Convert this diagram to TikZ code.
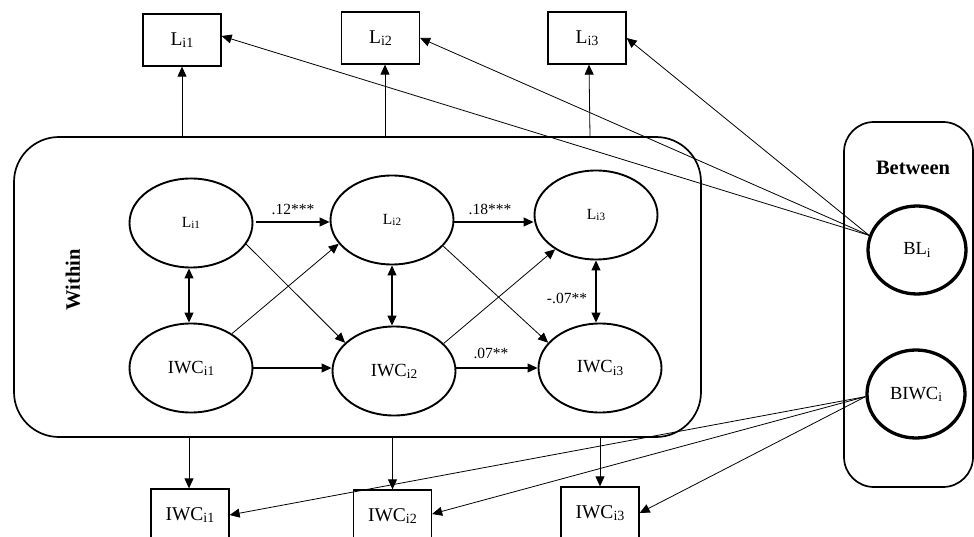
\documentclass[tikz,border=0pt]{standalone}
\usepackage{fontspec}
\setmainfont{Liberation Serif}
\usepackage{graphicx}
\usetikzlibrary{arrows.meta,shapes.geometric}
\newcommand\sbs[1]{\raisebox{-0.25ex}{\scalebox{0.72}{#1}}}
\begin{document}
\begin{tikzpicture}[x=1pt,y=-1pt,
  obs/.style={draw,line width=1.3pt,minimum width=78pt,minimum height=52pt,inner sep=0pt,font=\fontsize{19.5}{20}\selectfont},
  lat/.style={draw,ellipse,line width=1.9pt,minimum width=123pt,minimum height=89pt,inner sep=0pt},
  blat/.style={draw,ellipse,line width=3.3pt,minimum width=98pt,minimum height=88pt,inner sep=0pt,font=\fontsize{18.5}{20}\selectfont},
  pan/.style={draw,line width=1.7pt,inner sep=0pt},
  conn/.style={line width=0.8pt,-{Triangle[length=10pt,width=9pt]}},
  hconn/.style={line width=1.1pt,-{Triangle[length=10pt,width=9pt]}},
  dconn/.style={line width=1.1pt,{Triangle[length=10pt,width=9pt]}-{Triangle[length=10pt,width=9pt]}},
  lab/.style={font=\fontsize{15.5}{16}\selectfont,inner sep=0pt}
]
\useasboundingbox (0,0) rectangle (974,537);
\clip (0,0) rectangle (974,537);
\fill[white] (0,0) rectangle (974,537);

% panels
\node[pan,rounded corners=45pt,minimum width=687pt,minimum height=300pt] (W) at (357.5,287) {};
\node[pan,rounded corners=30pt,minimum width=129pt,minimum height=365pt] (B) at (908.5,304.5) {};
\node[font=\bfseries\fontsize{20.5}{22}\selectfont,rotate=90] (Wt) at (73,280) {Within};
\node[font=\bfseries\fontsize{20.5}{22}\selectfont] (Bt) at (913,168) {Between};

% observed boxes
\node[obs] (Lb1) at (182,40) {L\sbs{i1}};
\node[obs] (Lb2) at (380.5,38) {L\sbs{i2}};
\node[obs] (Lb3) at (587,38) {L\sbs{i3}};
\node[obs] (Ib1) at (190,515) {IWC\sbs{i1}};
\node[obs] (Ib2) at (392.5,516) {IWC\sbs{i2}};
\node[obs] (Ib3) at (600,513) {IWC\sbs{i3}};

% latent ellipses
\node[lat,font=\fontsize{15.5}{16}\selectfont] (L1) at (191,223) {L\sbs{i1}};
\node[lat,font=\fontsize{15.5}{16}\selectfont] (L2) at (392,220) {L\sbs{i2}};
\node[lat,font=\fontsize{15.5}{16}\selectfont] (L3) at (596,215) {L\sbs{i3}};
\node[lat,font=\fontsize{18.5}{20}\selectfont] (I1) at (191,368) {IWC\sbs{i1}};
\node[lat,font=\fontsize{18.5}{20}\selectfont] (I2) at (394,371) {IWC\sbs{i2}};
\node[lat,font=\fontsize{18.5}{20}\selectfont] (I3) at (600,368) {IWC\sbs{i3}};
\node[blat] (BL) at (917,250) {BL\sbs{i}};
\node[blat] (BI) at (916,394) {BIWC\sbs{i}};

% within -> indicators
\draw[conn] (Lb1.south |- W.north) -- (Lb1.south);
\draw[conn] (W.north -| 385,0) -- (Lb2.south -| 385,0);
\draw[conn] (W.north -| 590,0) -- (Lb3.south -| 589,0);
\draw[conn] (W.south -| 189,0) -- (Ib1.north -| 189,0);
\draw[conn] (Ib2.north |- W.south) -- (Ib2.north);
\draw[conn] (Ib3.north |- W.south) -- (Ib3.north);

% between -> indicators
\draw[conn] (BL.163) -- ([yshift=4pt]Lb1.east);
\draw[conn] (BL.163) -- (Lb2.east);
\draw[conn] (BL.163) -- (Lb3.east);
\draw[conn] (BI.183) -- (Ib1.east);
\draw[conn] (BI.183) -- ([yshift=2pt]Ib2.east);
\draw[conn] (BI.183) -- (Ib3.east);

% autoregressive paths
\draw[hconn,shorten <=3pt] (L1.east |- 0,222) -- (L2.west |- 0,222);
\draw[hconn] (L2.east |- 0,222) -- (L3.west |- 0,222);
\draw[hconn] (I1.east |- 0,368) -- (I2.west |- 0,368);
\draw[hconn] (I2.east |- 0,368) -- (I3.west |- 0,368);
\node[lab] (e1) at (293,209) {.12***};
\node[lab] (e2) at (490,209) {.18***};
\node[lab] (e3) at (491,353) {.07**};
\node[lab] (e4) at (567,298) {-.07**};

% correlations
\draw[dconn] (L1.south -| 189,0) -- (I1.north -| 189,0);
\draw[dconn] (L2.south -| 392,0) -- (I2.north -| 392,0);
\draw[dconn] (L3.south) -- (I3.north -| 596,0);

% cross-lagged
\draw[conn] (L1.-21) -- (I2.150);
\draw[conn] (I1.40) -- (L2.204);
\draw[conn] (L2.-27) -- (I3.154);
\draw[conn] (I2.29) -- (L3.220);
\end{tikzpicture}
\end{document}
